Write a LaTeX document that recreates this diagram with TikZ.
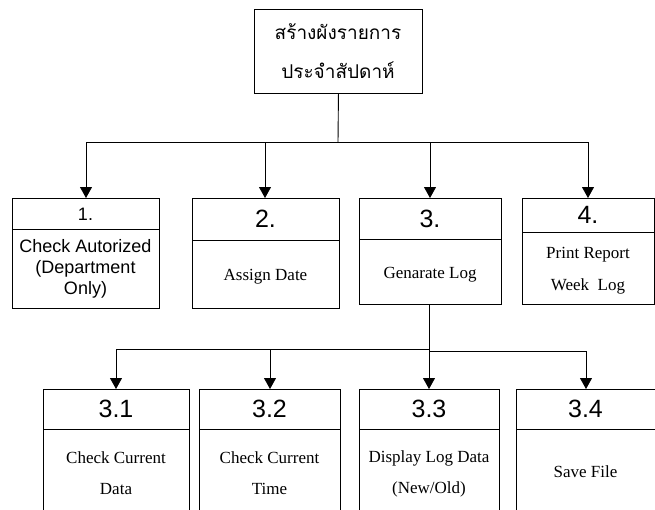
\documentclass[tikz,border=0pt]{standalone}
\usepackage{fontspec}
\setmainfont{Liberation Serif}
\newfontfamily\arialf{Liberation Sans}
\newfontfamily\thaifont[Script=Thai]{Loma}
\usetikzlibrary{arrows.meta}
\tikzset{
  box/.style={draw, line width=0.9pt, rectangle, anchor=north west, inner sep=0pt},
  conn/.style={line width=0.9pt},
  arr/.style={line width=0.9pt, -{Triangle[length=11pt,width=12pt]}},
  numA/.style={font=\arialf\fontsize{25}{28}\selectfont, inner sep=0pt},
  numS/.style={font=\arialf\fontsize{18}{20}\selectfont, inner sep=0pt},
  bodyS/.style={font=\arialf\fontsize{18}{21}\selectfont, align=center, inner sep=0pt},
  bodyT/.style={font=\fontsize{17}{31}\selectfont, align=center, inner sep=0pt},
  thai/.style={font=\thaifont\fontsize{19}{39}\selectfont, align=center, inner sep=0pt}
}
\begin{document}
\begin{tikzpicture}[x=1pt,y=-1pt]
\useasboundingbox (0,0) rectangle (655,509);
\clip (0,0) rectangle (655,509);
% top box
\node[box, minimum width=168pt, minimum height=84pt] (top) at (254,9) {};
\node[thai] (toptxt) at (338,51) {สร้างผังรายการ\\ประจำสัปดาห์};
% level 1 boxes
\node[box, minimum width=147pt, minimum height=110pt] (b1) at (12,198) {};
\node[box, minimum width=147pt, minimum height=110pt] (b2) at (192,198) {};
\node[box, minimum width=142pt, minimum height=106pt] (b3) at (359,198) {};
\node[box, minimum width=132pt, minimum height=106pt] (b4) at (522,198) {};
\draw[conn] ([yshift=-31pt]b1.north west) -- ([yshift=-31pt]b1.north east);
\draw[conn] ([yshift=-42pt]b2.north west) -- ([yshift=-42pt]b2.north east);
\draw[conn] ([yshift=-41pt]b3.north west) -- ([yshift=-41pt]b3.north east);
\draw[conn] ([yshift=-34pt]b4.north west) -- ([yshift=-34pt]b4.north east);
\node[numS] (n1) at (85.5,214) {1.};
\node[bodyS] (t1) at (85.5,269) {Check Autorized\\(Department\\Only)};
\node[numA] (n2) at (265.5,219) {2.};
\node[bodyT] (t2) at (265.5,277) {Assign Date};
\node[numA] (n3) at (430,219) {3.};
\node[bodyT] (t3) at (430,275) {Genarate Log};
\node[numA] (n4) at (588,215) {4.};
\node[bodyT, font=\fontsize{17}{32}\selectfont] (t4) at (588,271) {Print Report\\Week\ \ Log};
% level 2 boxes
\node[box, minimum width=146pt, minimum height=130pt] (c1) at (43,389) {};
\node[box, minimum width=141pt, minimum height=130pt] (c2) at (199,389) {};
\node[box, minimum width=140pt, minimum height=130pt] (c3) at (359,389) {};
\node[box, minimum width=139pt, minimum height=130pt] (c4) at (516,389) {};
\foreach \c in {c1,c2,c3,c4}{
  \draw[conn] ([yshift=-40pt]\c.north west) -- ([yshift=-40pt]\c.north east);
}
\node[numA] (m1) at (116,409) {3.1};
\node[bodyT] (s1) at (116,473.5) {Check Current\\Data};
\node[numA] (m2) at (269.5,409) {3.2};
\node[bodyT] (s2) at (269.5,473.5) {Check Current\\Time};
\node[numA] (m3) at (429,409) {3.3};
\node[bodyT] (s3) at (429,473.5) {Display Log Data\\(New/Old)};
\node[numA] (m4) at (585.5,409) {3.4};
\node[bodyT] (s4) at (585.5,472) {Save File};
% connectors level 0 -> 1
\coordinate (j0) at (338,142);
\coordinate (h1) at (86,142);
\coordinate (h4) at (588,142);
\draw[conn] (top.south) -- (j0);
\draw[conn] (h1) -- (h4);
\draw[arr] (h1) -- (h1 |- b1.north);
\draw[arr] (j0 -| 265,0) -- (265,198);
\draw[arr] (j0 -| 430,0) -- (430,198);
\draw[arr] (h4) -- (h4 |- b4.north);
% connectors level 1 -> 2
\coordinate (j1) at (429,349);
\coordinate (k1) at (116,349);
\coordinate (k2) at (270,349);
\coordinate (j2) at (429,351);
\coordinate (k4) at (586,351);
\draw[conn] (b3.south -| j1) -- (j1) -- (k1);
\draw[arr] (k1) -- (k1 |- c1.north);
\draw[arr] (k2) -- (k2 |- c2.north);
\draw[arr] (j1) -- (j1 |- c3.north);
\draw[conn] (j2) -- (k4);
\draw[arr] (k4) -- (k4 |- c4.north);
\end{tikzpicture}
\end{document}
